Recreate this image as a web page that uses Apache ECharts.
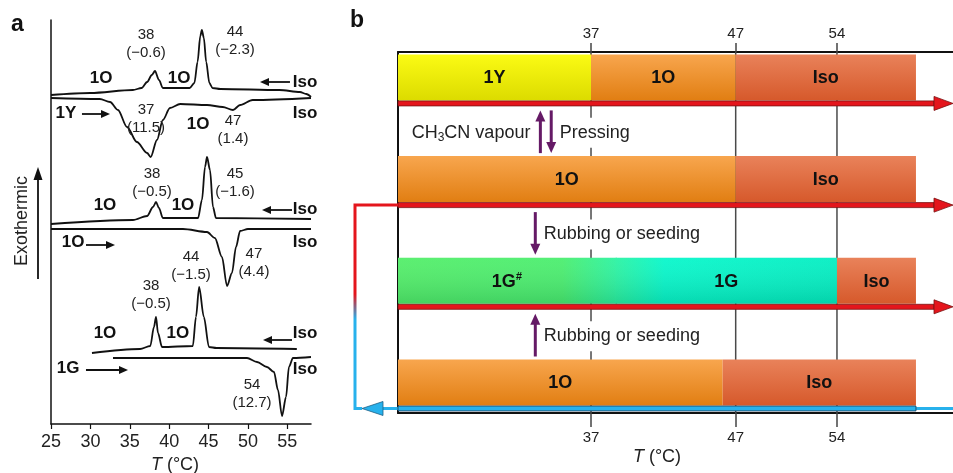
<!DOCTYPE html>
<html><head><meta charset="utf-8">
<script src="https://cdn.jsdelivr.net/npm/echarts@6/dist/echarts.min.js"></script>
<style>html,body{margin:0;padding:0;background:#fff}#c{width:953px;height:473px}</style>
</head><body><div id="c"></div>
<script>
// ---------- Panel a : DSC traces (T in °C, heat flow in arbitrary stacked units) ----------
const tempTicksA = [25, 30, 35, 40, 45, 50, 55];
const cool1Y = [[25,329],[30,331],[35.4,334],[36.5,336],[37.2,342],[37.8,349],[38.2,353],[38.7,344],[39.2,336],[40,336],[42.6,336],[43.2,341],[43.6,362],[43.95,388],[44.15,394],[44.4,386],[44.7,362],[45.1,341],[45.5,336],[46.5,335],[54,334],[56.6,332],[57.4,330],[58,327]];
const heat1Y = [[25,326],[31.2,325],[32.5,322],[33.5,314],[34.65,297],[35.9,282],[37.2,271],[37.65,267],[38.45,284],[39.2,304],[40.1,316],[41.4,320],[44.8,319],[46.8,317],[48.1,314],[49.0,319],[50.6,324],[58,326]];
const cool1O = [[25,200],[35.4,204],[37.2,208],[37.95,217],[38.33,222],[38.7,216],[39.2,206],[43.66,206],[44.16,224],[44.55,257],[44.8,267],[45.18,254],[45.56,217],[45.94,206],[58,205]];
const heat1O = [[25,195],[41.75,195],[44.8,192],[45.8,186],[46.7,167],[47.34,138],[47.97,151],[48.48,177],[49.0,193],[50.0,195],[58,195]];
const cool1G = [[30.2,71],[36.3,75],[37.6,78],[38.07,97],[38.33,107],[38.58,91],[39.09,77],[43.0,78],[43.4,107],[43.8,137],[44.4,107],[45.05,77],[46,76],[56.2,75]];
const heat1G = [[32.87,66],[49.88,66],[51.15,62],[52.41,57],[53.3,52],[53.81,34],[54.32,8],[54.83,27],[55.2,57],[55.71,66],[58,67]];
const peakNotes = [
  [37.06,380,'38','(−0.6)'],[48.35,383,'44','(−2.3)'],
  [37.06,305,'37','(11.5)'],[48.1,294,'47','(1.4)'],
  [37.82,241,'38','(−0.5)'],[48.35,241,'45','(−1.6)'],
  [42.77,158,'44','(−1.5)'],[50.76,161,'47','(4.4)'],
  [37.69,129,'38','(−0.5)'],[50.51,30,'54','(12.7)']
];
const phaseNotes = [
  [31.35,346,'1O'],[41.25,346,'1O'],[57.24,342,'Iso'],
  [26.9,311,'1Y'],[43.66,300,'1O'],[57.24,311,'Iso'],
  [31.85,219,'1O'],[41.75,219,'1O'],[57.24,215,'Iso'],
  [27.8,182,'1O'],[57.24,182,'Iso'],
  [31.85,91,'1O'],[41.1,91,'1O'],[57.24,91,'Iso'],
  [27.16,56,'1G'],[57.24,55,'Iso']
];
const scanArrows = [ // [T tail, T head, level]
  [55.33,51.53,342],[28.93,32.49,310],[55.59,51.78,214],[29.44,33.12,179],[55.59,51.91,84],[29.44,34.77,54]
];

// ---------- Panel b : phase sequence schematic ----------
const transitionTemps = [37, 47, 54];
const axisB = [23.66, 62.02];
const barStart = 23.66, barEnd = 59.46;
const phaseBars = [ // [row, from, to, kind, label]
  [0, barStart, 37, 'Y', '1Y'], [0, 37, 47, 'O', '1O'], [0, 47, barEnd, 'I', 'Iso'],
  [1, barStart, 47, 'O', '1O'], [1, 47, barEnd, 'I', 'Iso'],
  [2, barStart, 38.7, 'G1', '{b|1G}{s|#}'], [2, 38.7, 54, 'G2', '1G'], [2, 54, barEnd, 'I', 'Iso'],
  [3, barStart, 46.1, 'O', '1O'], [3, 46.1, barEnd, 'I', 'Iso']
];
const rowArrows = [[0,'heat'],[1,'heat'],[2,'heat'],[3,'cool',1]];
const treatmentArrows = [[0,'up',33.5],[0,'down',34.25],[1,'down',33.15],[2,'up',33.15]];
const treatmentLabels = [[0,32.95,'right','{n|CH}{s|3}{n|CN vapour}'],[0,34.7,'left','Pressing'],[1,33.6,'left','Rubbing or seeding'],[2,33.6,'left','Rubbing or seeding']];

const FONT = '"Liberation Sans", Arial, Helvetica, sans-serif';
const chart = echarts.init(document.getElementById('c'));
const rowY = r => r + 0.25;

function vgrad(a, b){return {type:'linear',x:0,y:0,x2:0,y2:1,colorStops:[{offset:0,color:a},{offset:1,color:b}]};}
function hgrad(stops){return {type:'linear',x:0,y:0,x2:1,y2:0,colorStops:stops.map(s=>({offset:s[0],color:s[1]}))};}
function barFill(kind){
  if (kind==='Y') return vgrad('#fbfb14','#dcdb00');
  if (kind==='O') return vgrad('#f8a64e','#e17e12');
  if (kind==='I') return vgrad('#e9825a','#d6592b');
  if (kind==='G1') return hgrad([[0,'#52ee68'],[0.75,'#4aee6e'],[1,'#2af3a2']]);
  return hgrad([[0,'#2af3a2'],[0.22,'#06f7cb'],[1,'#02eec2']]);
}

const lineSeries = [cool1Y, heat1Y, cool1O, heat1O, cool1G, heat1G].map(d => ({
  type:'line', xAxisIndex:0, yAxisIndex:0, data:d, showSymbol:false, smooth:0.3, smoothMonotone:'x',
  lineStyle:{color:'#111', width:1.8}, silent:true, z:3
}));

const option = {
  animation:false,
  grid:[
    {left:51, top:20, width:260, height:404},
    {left:398, top:52, width:555, height:361}
  ],
  xAxis:[
    {type:'value', gridIndex:0, min:25, max:58,
      axisLine:{lineStyle:{color:'#111', width:1.5}},
      axisTick:{customValues:tempTicksA, length:5, lineStyle:{color:'#111', width:1.2}},
      axisLabel:{customValues:tempTicksA, fontSize:18, color:'#222', fontFamily:FONT, margin:9, hideOverlap:false},
      splitLine:{show:false}},
    {type:'value', gridIndex:1, position:'bottom', min:axisB[0], max:axisB[1],
      axisLine:{onZero:false, lineStyle:{color:'#111', width:2}},
      axisTick:{customValues:transitionTemps, length:14, lineStyle:{color:'#444', width:1.5}},
      axisLabel:{customValues:transitionTemps, fontSize:15, color:'#222', fontFamily:FONT, margin:17},
      splitLine:{show:false}},
    {type:'value', gridIndex:1, position:'top', min:axisB[0], max:axisB[1],
      axisLine:{onZero:false, lineStyle:{color:'#111', width:2}},
      axisTick:{customValues:transitionTemps, length:9, lineStyle:{color:'#444', width:1.5}},
      axisLabel:{customValues:transitionTemps, fontSize:15, color:'#222', fontFamily:FONT, margin:11},
      splitLine:{show:false}}
  ],
  yAxis:[
    {type:'value', gridIndex:0, min:0, max:404, axisLine:{show:true, lineStyle:{color:'#111', width:1.5}},
      axisTick:{show:false}, axisLabel:{show:false}, splitLine:{show:false}},
    {type:'value', gridIndex:1, min:0, max:3.55, inverse:true, axisLine:{show:true, onZero:false, lineStyle:{color:'#111', width:2}},
      axisTick:{show:false}, axisLabel:{show:false}, splitLine:{show:false}}
  ],
  graphic:[
    {type:'text', left:11, top:13, style:{text:'a', font:'bold 23px '+FONT, fill:'#111'}},
    {type:'text', left:350, top:9, style:{text:'b', font:'bold 23px '+FONT, fill:'#111'}},
    {type:'text', x:22, y:221, rotation:Math.PI/2, style:{text:'Exothermic', font:'18px '+FONT, fill:'#222', align:'center', verticalAlign:'middle'}},
    {type:'line', shape:{x1:38, y1:279, x2:38, y2:178}, style:{stroke:'#111', lineWidth:1.8}},
    {type:'polygon', shape:{points:[[38,167],[33.5,180],[42.5,180]]}, style:{fill:'#111'}},
    {type:'text', x:175, y:465, style:{text:'{i|T} (°C)', rich:{i:{fontStyle:'italic', fontSize:18, fontFamily:FONT, fill:'#222'}}, font:'18px '+FONT, fill:'#222', align:'center', verticalAlign:'middle'}},
    {type:'text', x:657, y:457, style:{text:'{i|T} (°C)', rich:{i:{fontStyle:'italic', fontSize:18, fontFamily:FONT, fill:'#222'}}, font:'18px '+FONT, fill:'#222', align:'center', verticalAlign:'middle'}}
  ],
  series:[
    ...lineSeries,
    {type:'custom', xAxisIndex:0, yAxisIndex:0, data:peakNotes.map(n=>[n[0],n[1]]), silent:true, z:4,
      renderItem:(params, api)=>{ const n = peakNotes[params.dataIndex]; const p = api.coord([n[0],n[1]]);
        return {type:'text', x:p[0], y:p[1], style:{text:n[2]+'\n'+n[3], font:'15px '+FONT, fill:'#222', align:'center', verticalAlign:'middle', lineHeight:18}}; }},
    {type:'custom', xAxisIndex:0, yAxisIndex:0, data:phaseNotes.map(n=>[n[0],n[1]]), silent:true, z:4,
      renderItem:(params, api)=>{ const n = phaseNotes[params.dataIndex]; const p = api.coord([n[0],n[1]]);
        return {type:'text', x:p[0], y:p[1], style:{text:n[2], font:'bold 17px '+FONT, fill:'#111', align:'center', verticalAlign:'middle'}}; }},
    {type:'custom', xAxisIndex:0, yAxisIndex:0, data:scanArrows.map(a=>[a[0],a[2]]), silent:true, z:4,
      renderItem:(params, api)=>{ const a = scanArrows[params.dataIndex]; const p0 = api.coord([a[0],a[2]]); const p1 = api.coord([a[1],a[2]]);
        const dir = p1[0] > p0[0] ? 1 : -1; const hx = p1[0] - dir*9;
        return {type:'group', children:[
          {type:'line', shape:{x1:p0[0], y1:p0[1], x2:hx, y2:p1[1]}, style:{stroke:'#111', lineWidth:1.8}},
          {type:'polygon', shape:{points:[[p1[0],p1[1]],[hx,p1[1]-4],[hx,p1[1]+4]]}, style:{fill:'#111'}}
        ]}; }},
    // guide lines at transition temperatures
    {type:'custom', xAxisIndex:1, yAxisIndex:1, data:transitionTemps.map(t=>[t,0]), silent:true, z:1,
      renderItem:(params, api)=>{ const cs = params.coordSys; const x = api.coord([transitionTemps[params.dataIndex],0])[0];
        return {type:'line', shape:{x1:x, y1:cs.y, x2:x, y2:cs.y+cs.height}, style:{stroke:'#4a4a4a', lineWidth:1.5}}; }},
    // phase bars
    {type:'custom', xAxisIndex:1, yAxisIndex:1, data:phaseBars.map(b=>[b[1],b[2],rowY(b[0])]), encode:{x:[0,1], y:2}, silent:true, z:2,
      renderItem:(params, api)=>{ const b = phaseBars[params.dataIndex];
        const p0 = api.coord([b[1], rowY(b[0])]); const p1 = api.coord([b[2], rowY(b[0])]);
        const h = 46, y = p0[1]-h/2, w = p1[0]-p0[0] + (b[3]==='G1' ? 1.5 : 0);
        const kids = [{type:'rect', shape:{x:p0[0], y:y, width:w, height:h}, style:{fill:barFill(b[3])}}];
        if (b[3]==='G1' || b[3]==='G2') kids.push({type:'rect', shape:{x:p0[0], y:y, width:w, height:h}, style:{fill:vgrad('rgba(255,255,255,0.06)','rgba(0,60,40,0.16)')}});
        kids.push({type:'text', x:(p0[0]+p1[0])/2, y:p0[1]+1, style:{text:b[4], font:'bold 18px '+FONT, fill:'#111', align:'center', verticalAlign:'middle',
          rich:{b:{font:'bold 18px '+FONT, fill:'#111'}, s:{font:'italic bold 11px '+FONT, fill:'#111', padding:[0,0,9,0]}}}});
        return {type:'group', children:kids}; }},
    // heating / cooling arrows
    {type:'custom', xAxisIndex:1, yAxisIndex:1, data:rowArrows.map(r=>[barStart,rowY(r[0])]), silent:true, z:3,
      renderItem:(params, api)=>{ const r = rowArrows[params.dataIndex]; const cs = params.coordSys;
        const yc = api.coord([barStart, rowY(r[0])])[1] + 26; const left = cs.x, right = cs.x + cs.width;
        const red = '#e4151c', blue = '#27b1ec';
        if (r[1]==='heat') return {type:'group', children:[
          {type:'rect', shape:{x:left, y:yc-2.5, width:right-19-left, height:5}, style:{fill:red, stroke:'#7a1212', lineWidth:0.8}},
          {type:'polygon', shape:{points:[[right-19,yc-7],[right,yc],[right-19,yc+7]]}, style:{fill:red, stroke:'#7a1212', lineWidth:0.8}}
        ]};
        const xEnd = api.coord([barEnd, 0])[0]; const yBack = api.coord([barStart, rowY(r[2])])[1] + 26;
        const lx = left - 43, tip = left - 36;
        return {type:'group', children:[
          {type:'line', shape:{x1:xEnd, y1:yc, x2:right, y2:yc}, style:{stroke:blue, lineWidth:3}},
          {type:'line', shape:{x1:tip+20, y1:yc, x2:left, y2:yc}, style:{stroke:blue, lineWidth:3}},
          {type:'rect', shape:{x:left, y:yc-2.5, width:xEnd-left, height:5}, style:{fill:blue, stroke:'#1b3650', lineWidth:0.8}},
          {type:'polyline', shape:{points:[[tip,yc],[lx,yc],[lx,yBack],[left,yBack]]},
            style:{fill:null, lineWidth:3, stroke:{type:'linear',x:0,y:0,x2:0,y2:1,colorStops:[{offset:0,color:red},{offset:0.44,color:red},{offset:0.56,color:blue},{offset:1,color:blue}]}}},
          {type:'polygon', shape:{points:[[tip,yc],[tip+21,yc-7],[tip+21,yc+7]]}, style:{fill:blue, stroke:'#1d5f85', lineWidth:0.8}}
        ]}; }},
    // treatment labels (white boxes hide guide line)
    {type:'custom', xAxisIndex:1, yAxisIndex:1, data:treatmentLabels.map(t=>[t[1],rowY(t[0])]), silent:true, z:4,
      renderItem:(params, api)=>{ const t = treatmentLabels[params.dataIndex];
        const yA = api.coord([t[1], rowY(t[0])])[1] + 26; const yB = api.coord([t[1], rowY(t[0]+1)])[1] - 23;
        const x = api.coord([t[1], 0])[0];
        return {type:'text', x:x, y:(yA+yB)/2+3, style:{text:t[3], font:'18px '+FONT, fill:'#222', align:t[2], verticalAlign:'middle',
          backgroundColor:'#fff', padding:[6,2,6,2],
          rich:{n:{font:'18px '+FONT, fill:'#222'}, s:{font:'12px '+FONT, fill:'#222', padding:[9,0,0,0]}}}}; }},
    // treatment arrows
    {type:'custom', xAxisIndex:1, yAxisIndex:1, data:treatmentArrows.map(t=>[t[2],rowY(t[0])]), silent:true, z:5,
      renderItem:(params, api)=>{ const t = treatmentArrows[params.dataIndex];
        const x = api.coord([t[2], 0])[0];
        const yTop = api.coord([t[2], rowY(t[0])])[1] + 26 + 7; const yBot = api.coord([t[2], rowY(t[0]+1)])[1] - 23 - 3;
        const purple = '#651a66';
        const tipY = t[1]==='up' ? yTop : yBot; const tailY = t[1]==='up' ? yBot : yTop; const d = t[1]==='up' ? 1 : -1;
        return {type:'group', children:[
          {type:'line', shape:{x1:x, y1:tailY, x2:x, y2:tipY + d*9}, style:{stroke:purple, lineWidth:3}},
          {type:'polygon', shape:{points:[[x,tipY],[x-5,tipY+d*11],[x+5,tipY+d*11]]}, style:{fill:purple}}
        ]}; }}
  ]
};
chart.setOption(option);
</script></body></html>
